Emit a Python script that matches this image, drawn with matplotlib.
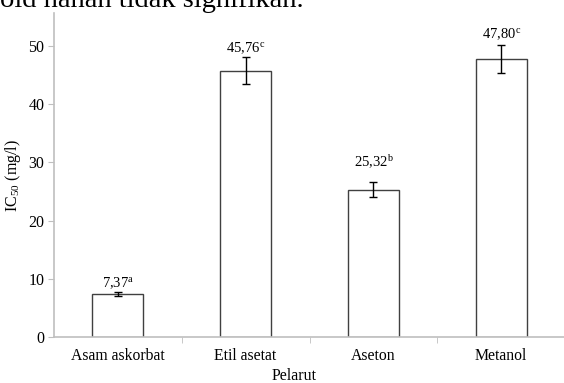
import matplotlib
matplotlib.use("Agg")
import matplotlib.pyplot as plt
import numpy as np

plt.rcParams['font.family'] = ['Liberation Serif', 'DejaVu Serif']
plt.rcParams['mathtext.fontset'] = 'custom'
plt.rcParams['mathtext.rm'] = 'Liberation Serif'
plt.rcParams['mathtext.it'] = 'Liberation Serif:italic'

pelarut = ['Asam askorbat', 'Etil asetat', 'Aseton', 'Metanol']
ic50 = [7.37, 45.76, 25.32, 47.80]
sd = [0.4, 2.35, 1.25, 2.4]
notasi = ['a', 'c', 'b', 'c']
label_pad = [0.5, 0.5, 8, 2.5]  # points above the error bar

axis_grey = '#bfbfbf'

fig = plt.figure(figsize=(5.64, 3.83), dpi=100)
ax = fig.add_axes([54 / 564, 46 / 383, 511 / 564, 324 / 383])

x = np.arange(len(pelarut))
ax.bar(x, ic50, width=0.4, color='white', edgecolor='#404040', linewidth=1.0, zorder=2)
ax.errorbar(x, ic50, yerr=sd, fmt='none', ecolor='black', elinewidth=1.0,
            capsize=3, capthick=1.0, zorder=3)

for xi, v, e, n, p in zip(x, ic50, sd, notasi, label_pad):
    txt = f"{v:.2f}".replace('.', ',') + r'$^{\mathrm{' + n + '}}$'
    ax.annotate(txt, (xi, v + e), xytext=(0, p), textcoords='offset points',
                ha='center', va='bottom', fontsize=10.5)

ax.set_xlim(-0.5, len(pelarut) - 0.5)
ax.set_ylim(0, 55.7)
ax.set_yticks(range(0, 51, 10))
ax.tick_params(axis='y', direction='out', length=4, color=axis_grey, labelsize=11.5, pad=3)

ax.set_xticks(x)
ax.set_xticklabels(pelarut, fontsize=11.3)
ax.tick_params(axis='x', length=0, pad=8)
ax.set_xticks(np.arange(0.5, len(pelarut) - 0.5, 1), minor=True)
ax.tick_params(axis='x', which='minor', direction='out', length=4, color=axis_grey)

for side in ['top', 'right']:
    ax.spines[side].set_visible(False)
for side in ['left', 'bottom']:
    ax.spines[side].set_color(axis_grey)
    ax.spines[side].set_linewidth(1.2)

ax.set_ylabel(r'IC$_{\mathrm{50}}$ (mg/l)', fontsize=11.5)
ax.yaxis.set_label_coords(-0.06, 0.5)
ax.set_xlabel('Pelarut', fontsize=11.5)
ax.xaxis.set_label_coords(0.47, -0.095)

# tail of the caption line running above the chart
fig.text(-0.003, 383 - 7, 'oid hanan tidak signifikan.', transform=None,
         fontsize=20.5, va='baseline', ha='left')

fig.savefig('out.png', dpi=100)
